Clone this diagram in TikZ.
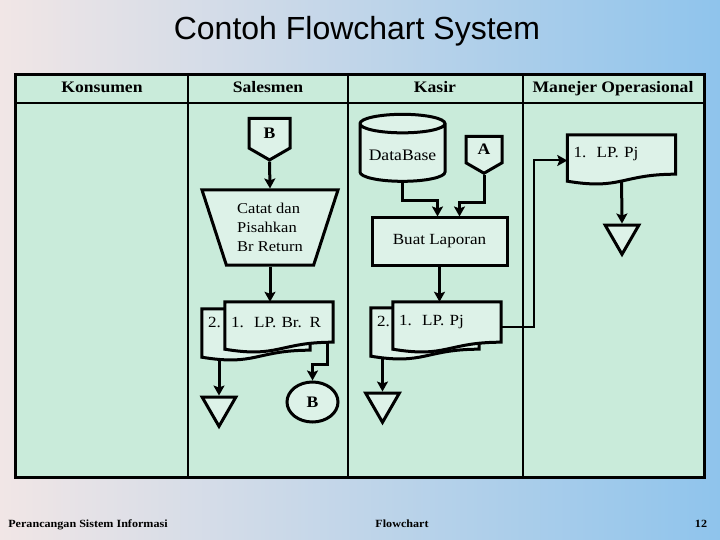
\documentclass[tikz,border=0pt]{standalone}
\usepackage{fontspec}
\setmainfont{Liberation Serif}[FakeStretch=1.1]
\newfontfamily\titlefont{Liberation Sans}
\usetikzlibrary{shapes.geometric,shapes.symbols,arrows.meta,calc}

\definecolor{lanegreen}{HTML}{C9EBDA}
\definecolor{boxgreen}{HTML}{DDF2E8}
\definecolor{bgleft}{HTML}{F1E6E6}
\definecolor{bgmid}{HTML}{D6EBF7}
\definecolor{bgright}{HTML}{8FC4EC}

\pgfdeclarelayer{background}
\pgfdeclarelayer{shapes}
\pgfsetlayers{background,shapes,main}

\newcommand{\docframe}[1]{%
    \draw[doc line] ($(#1.south west)+(0,7)$) -- (#1.north west) -- (#1.north east) -- (#1.south east)
        .. controls (#1.south) and ($(#1.south)+(0,16)$) .. ($(#1.south west)+(0,7)$) -- cycle;}

\begin{document}
\begin{tikzpicture}[x=1pt, y=-1pt]
    \tikzstyle{lane line}=[draw = black, line width = 2pt]
    \tikzstyle{lane head}=[anchor = base, font = \bfseries\fontsize{16}{16}\selectfont]
    \tikzstyle{foot}=[anchor = base, font = \bfseries\fontsize{11}{11}\selectfont]
    \tikzstyle{off page}=[
        signal, signal to = south, signal pointer angle = 120,
        draw = black, line width = 3pt, fill = boxgreen,
        minimum width = 41pt, minimum height = 33pt, inner sep = 0pt,
        font = \bfseries\fontsize{16}{16}\selectfont
    ]
    \tikzstyle{manual}=[
        trapezium, trapezium left angle = 110, trapezium right angle = 110,
        trapezium stretches = true,
        draw = black, line width = 3pt, fill = boxgreen,
        minimum width = 136pt, minimum height = 75pt, align = left,
        font = \fontsize{15}{19}\selectfont
    ]
    \tikzstyle{process}=[
        rectangle, draw = black, line width = 3pt, fill = boxgreen,
        minimum width = 135pt, minimum height = 47pt,
        font = \fontsize{15.5}{15.5}\selectfont
    ]
    \tikzstyle{database}=[
        cylinder, shape border rotate = 90, aspect = 0.25,
        draw = black, line width = 3pt, fill = boxgreen,
        minimum width = 85pt, minimum height = 67pt,
        font = \fontsize{16}{16}\selectfont
    ]
    \tikzstyle{document}=[
        rectangle, draw = none, minimum width = 108pt, minimum height = 40pt,
        inner xsep = 6pt, text width = 96pt, align = left,
        font = \fontsize{15.5}{15.5}\selectfont
    ]
    \tikzstyle{back document}=[document, minimum height = 41pt, text depth = 14pt]
    \tikzstyle{doc line}=[draw = black, line width = 3pt, fill = boxgreen]
    \tikzstyle{merge}=[
        regular polygon, regular polygon sides = 3, shape border rotate = 180,
        draw = black, line width = 3pt, fill = boxgreen,
        minimum size = 39pt, inner sep = 0pt
    ]
    \tikzstyle{connector}=[
        ellipse, draw = black, line width = 3pt, fill = boxgreen,
        minimum width = 51pt, minimum height = 40pt,
        font = \bfseries\fontsize{16}{16}\selectfont
    ]
    \tikzstyle{flow}=[draw = black, line width = 3pt, -{Stealth[length=10pt, width=11pt, inset=2pt]}]

    \useasboundingbox (0,0) rectangle (720,540);

	\node[font=\titlefont\fontsize{32}{32}\selectfont] (title) at (357, 31) {Contoh Flowchart System};

	\node[lane head] (hkons) at (102, 93)   {Konsumen};
	\node[lane head] (hsales) at (268, 93)  {Salesmen};
	\node[lane head] (hkasir) at (435, 93)  {Kasir};
	\node[lane head] (hmgr) at (613, 93)    {Manejer Operasional};

	\node[off page, anchor=north] (offB) at (269.5, 117) {B};
	\node[manual] (catat) at (270, 227.5)       {Catat dan\\Pisahkan\\Br Return};
	\node[back document] (lpbrb) at (256, 329.5) {2.};
	\node[document] (lpbr) at (279, 322)        {1.~~LP. Br. R};
	\node[merge] (tri1) at (219, 406.8)         {};
	\node[connector] (circB) at (312.5, 402)    {B};

	\node[database] (db) at (402.5, 155)        {DataBase};
	\node[off page, anchor=north, minimum width=36pt, minimum height=30pt] (offA) at (484, 135) {A};
	\node[process] (buat) at (439.5, 241.5)     {Buat Laporan};
	\node[back document] (lpkasb) at (425, 328.5) {2.};
	\node[document] (lpkas) at (447, 322)       {1.~~LP. Pj};
	\node[merge] (tri2) at (382.5, 402.8)       {};

	\node[document, minimum width=107pt, minimum height=39pt] (lpmgr) at (621.5, 154.5) {1.~~LP. Pj};
	\node[merge] (tri3) at (622, 234.8)         {};

	\node[foot] (fleft) at (88, 527)    {Perancangan Sistem Informasi};
	\node[foot] (fmid) at (402, 527)    {Flowchart};
	\node[foot] (fnum) at (701, 527)    {12};

    \begin{pgfonlayer}{shapes}
        \foreach \d in {lpbrb, lpbr, lpkasb, lpkas, lpmgr} {\docframe{\d}}
    \end{pgfonlayer}

    \begin{pgfonlayer}{background}
        \shade[left color=bgleft, middle color=bgmid, right color=bgright] (0,0) rectangle (720,540);
        \draw[lane line, line width=3pt, fill=lanegreen] (15,75) rectangle (704,477);
        \draw[lane line] (15,103) -- (704,103);
        \foreach \x in {188, 348, 523} \draw[lane line] (\x,75) -- (\x,477);

        \draw[flow] (offB.south) -- (catat.north);
        \draw[flow] (catat.south) -- (catat.south |- lpbr.north);
        \draw[flow] (tri1.north |- lpbrb.south) -- (tri1.north);
        \draw[flow] ($(lpbr.south east)+(-6,0)$) -- ++(0,22) -| (circB.north);
        \draw[flow] (db.south) -- ++(0,18) -| ($(buat.north)+(-2,0)$);
        \draw[flow] (offA.south) -- ++(0,28) -| ($(buat.north)+(20,0)$);
        \draw[flow] (buat.south) -- (buat.south |- lpkas.north);
        \draw[flow] (tri2.north |- lpkasb.south) -- (tri2.north);
        \draw[flow, line width=2pt] ($(lpkas.east)+(0,5)$) -- ++(33,0) |- ($(lpmgr.west)+(0,6)$);
        \draw[flow] (lpmgr.south) -- (tri3.north);
    \end{pgfonlayer}

\end{tikzpicture}
\end{document}
